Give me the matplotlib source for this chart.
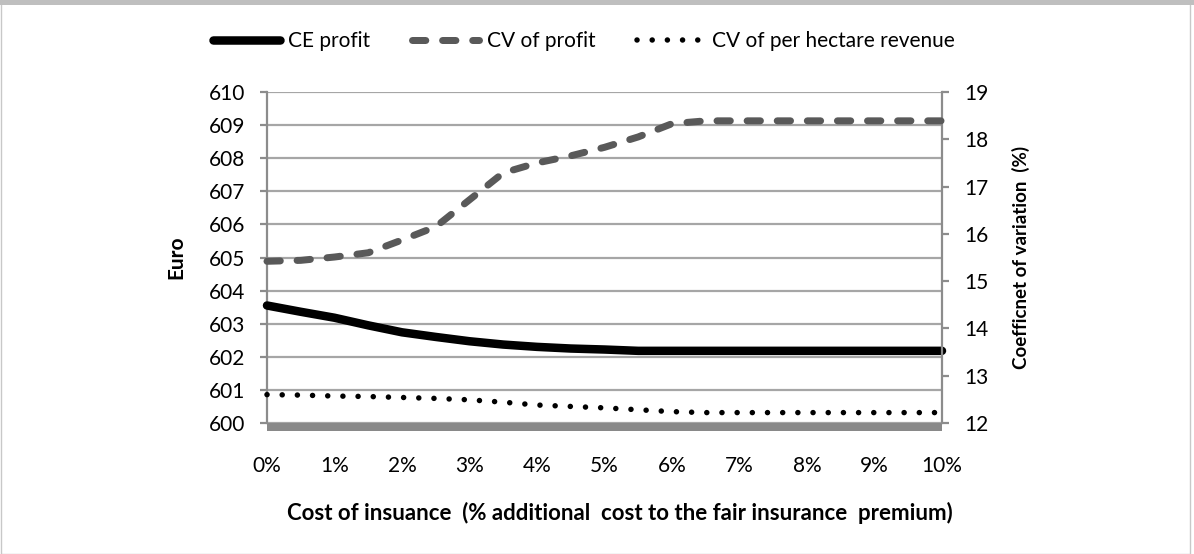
import matplotlib
matplotlib.use("Agg")
import matplotlib.pyplot as plt
from matplotlib.lines import Line2D
from matplotlib.patches import Rectangle

plt.rcParams['font.family'] = ['Lato', 'DejaVu Sans']

cost_pct = [0, 0.5, 1, 1.5, 2, 2.5, 3, 3.5, 4, 4.5, 5, 5.5, 6, 6.5, 7, 7.5, 8, 8.5, 9, 9.5, 10]
ce_profit = [603.55, 603.36, 603.18, 602.95, 602.74, 602.6, 602.47, 602.37, 602.3, 602.25,
             602.22, 602.18, 602.18, 602.18, 602.18, 602.18, 602.18, 602.18, 602.18, 602.18, 602.18]
cv_profit = [15.42, 15.44, 15.51, 15.6, 15.87, 16.15, 16.72, 17.29, 17.5, 17.65,
             17.83, 18.05, 18.33, 18.39, 18.39, 18.39, 18.39, 18.39, 18.39, 18.39, 18.39]
cv_revenue = [12.6, 12.59, 12.57, 12.56, 12.54, 12.52, 12.49, 12.44, 12.38, 12.35,
              12.32, 12.28, 12.24, 12.22, 12.22, 12.22, 12.22, 12.22, 12.22, 12.22, 12.22]
x_ticks = list(range(0, 11))
x_tick_labels = [f"{v}%" for v in x_ticks]
left_ticks = list(range(600, 611))
right_ticks = list(range(12, 20))

W, H = 1194, 554
PX = 72 / 100  # points per pixel
fig = plt.figure(figsize=(W / 100, H / 100), dpi=100)
fig.patch.set_facecolor('white')

# figure frame
fig.add_artist(Rectangle((0.5 / W, 0.5 / H), (W - 5) / W, (H - 1) / H, transform=fig.transFigure,
                         fill=False, edgecolor='#c8c8c8', linewidth=1.0))
fig.add_artist(Rectangle((0, 1 - 5 / H), 1, 5 / H, transform=fig.transFigure,
                         facecolor='#bfbfbf', edgecolor='none'))

x0, x1 = 267, 942
y_top, y_bot = 92, 423
ax = fig.add_axes([x0 / W, 1 - y_bot / H, (x1 - x0) / W, (y_bot - y_top) / H])
ax2 = ax.twinx()

grid_c = '#a6a6a6'
axis_c = '#8c8c8c'
ax.set_xlim(0, 10)
ax.set_ylim(600, 610)
ax.set_yticks(left_ticks)
ax.set_xticks(x_ticks)
ax.set_xticklabels(x_tick_labels)
ax.yaxis.grid(True, color=grid_c, linewidth=1.6)
ax.set_axisbelow(True)
for s in ['top', 'right', 'bottom']:
    ax.spines[s].set_visible(False)
ax.spines['left'].set_color(axis_c)
ax.spines['left'].set_linewidth(1.6)
ax.tick_params(axis='y', length=7 * PX, width=1.6, color=axis_c, labelsize=15, pad=15 * PX)
ax.tick_params(axis='x', length=0, labelsize=15, pad=33 * PX)

ax2.set_ylim(12, 19)
ax2.set_yticks(right_ticks)
for s in ['top', 'left', 'bottom']:
    ax2.spines[s].set_visible(False)
ax2.spines['right'].set_color(axis_c)
ax2.spines['right'].set_linewidth(1.6)
ax2.tick_params(axis='y', length=7 * PX, width=1.6, color=axis_c, labelsize=15, pad=15 * PX)

# thick gray base band just below the 600 line
ax.axhline(600 - 4 / 33.1, color='#898989', linewidth=8 * PX, solid_capstyle='butt',
           clip_on=False, zorder=1.5)

ce_style = dict(color='black', linewidth=8.5 * PX, solid_capstyle='round', solid_joinstyle='round')
cvp_style = dict(color='#595959', linewidth=7 * PX, dashes=(1.9, 2.4), dash_capstyle='round')
cvr_style = dict(color='black', linewidth=5.5 * PX, dashes=(0.01, 2.75), dash_capstyle='round')

ax.plot(cost_pct, ce_profit, zorder=3, clip_on=False, **ce_style)
ax2.plot(cost_pct, cv_profit, zorder=3, clip_on=False, **cvp_style)
ax2.plot(cost_pct, cv_revenue, zorder=3, clip_on=False, **cvr_style)

ax.set_ylabel('Euro', fontsize=15, fontweight='bold', labelpad=22 * PX)
ax2.set_ylabel('Coefficnet of variation  (%)', fontsize=13.5, fontweight='bold', labelpad=24 * PX)
ax.set_xlabel('Cost of insuance  (% additional  cost to the fair insurance  premium)',
              fontsize=16, fontweight='bold')
ax.xaxis.set_label_coords((620 - x0) / (x1 - x0), -(513 - y_bot) / (y_bot - y_top))
ax.xaxis.label.set_verticalalignment('center')

h1 = Line2D([], [], **ce_style)
h2 = Line2D([], [], **cvp_style)
h3 = Line2D([], [], **cvr_style)
fig.legend([h1, h2, h3], ['CE profit', 'CV of profit', 'CV of per hectare revenue'],
           loc='center', bbox_to_anchor=(584 / W, 1 - 41 / H), ncol=3, frameon=False,
           fontsize=15, handlelength=3.2, handletextpad=0.4, columnspacing=2.0)

fig.savefig('out.png', dpi=100, facecolor='white')
